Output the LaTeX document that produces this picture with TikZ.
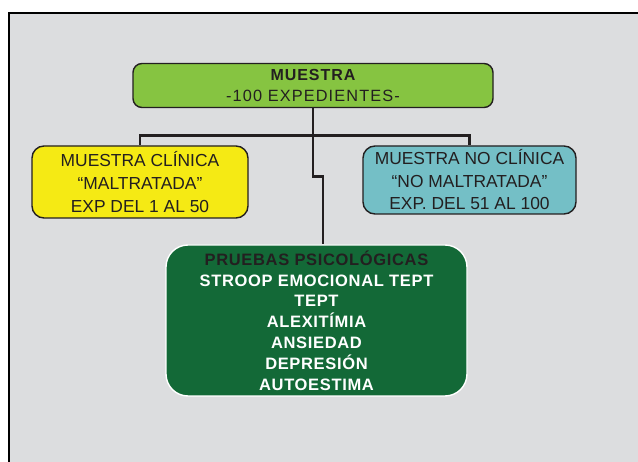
\documentclass[tikz,border=0pt]{standalone}
\usepackage{fontspec}
\setmainfont{Liberation Sans}
\usepackage{tikz}
\usetikzlibrary{calc}
\definecolor{panel}{HTML}{DCDDDF}
\definecolor{ink}{HTML}{231F20}
\definecolor{limegreen}{HTML}{86C441}
\definecolor{yell}{HTML}{F5EA14}
\definecolor{teal}{HTML}{74BFC6}
\definecolor{darkgreen}{HTML}{136937}
\tikzset{
  box/.style={draw=ink,line width=1.4pt,rounded corners=9pt,align=center,text=ink,inner sep=0pt},
  link/.style={draw=ink,line width=2.4pt}
}
\begin{document}
\begin{tikzpicture}[x=1pt,y=-1pt]
\useasboundingbox(0,0)rectangle(638,462);
\fill[white](0,0)rectangle(638,462);
\fill[panel](9,13)rectangle(640,464); %panel
\draw[line width=2pt](9,464)--(9,13)--(640,13);
%boxes
\node[box,fill=limegreen,minimum width=360,minimum height=44,font={\fontsize{16}{21}\selectfont}]
  (muestra)at(313,85.5){{\addfontfeature{LetterSpace=6}\bfseries MUESTRA}\\
  {\fontsize{16.3}{21}\selectfont\addfontfeature{LetterSpace=7}-100 EXPEDIENTES-}};
\node[box,fill=yell,minimum width=216,minimum height=72,rounded corners=12pt,font={\fontsize{17.4}{23}\selectfont}]
  (clinica)at(140,182){MUESTRA CLÍNICA\\“MALTRATADA”\\EXP DEL 1 AL 50};
\node[box,fill=teal,minimum width=213,minimum height=68,rounded corners=12pt,font={\fontsize{17.4}{22.5}\selectfont}]
  (noclinica)at(469.5,180){MUESTRA NO CLÍNICA\\“NO MALTRATADA”\\EXP. DEL 51 AL 100};
\node[box,draw=white,fill=darkgreen,text=white,minimum width=301,minimum height=151,rounded corners=22pt,
  font={\fontsize{16.5}{20.8}\selectfont\bfseries\addfontfeature{LetterSpace=4}}]
  (pruebas)at(316.5,320.5){{\color{ink}PRUEBAS PSICOLÓGICAS}\\STROOP EMOCIONAL TEPT\\TEPT\\ALEXITÍMIA\\ANSIEDAD\\DEPRESIÓN\\AUTOESTIMA};
%connectors
\coordinate(split)at($(muestra.south)+(0,27.5)$);
\draw[link](muestra.south)--(split);
\draw[link](clinica.north)|-(split)-|(noclinica.north);
\draw[link](split)--++(0,41)-|([xshift=6.5pt]pruebas.north);
\end{tikzpicture}
\end{document}
